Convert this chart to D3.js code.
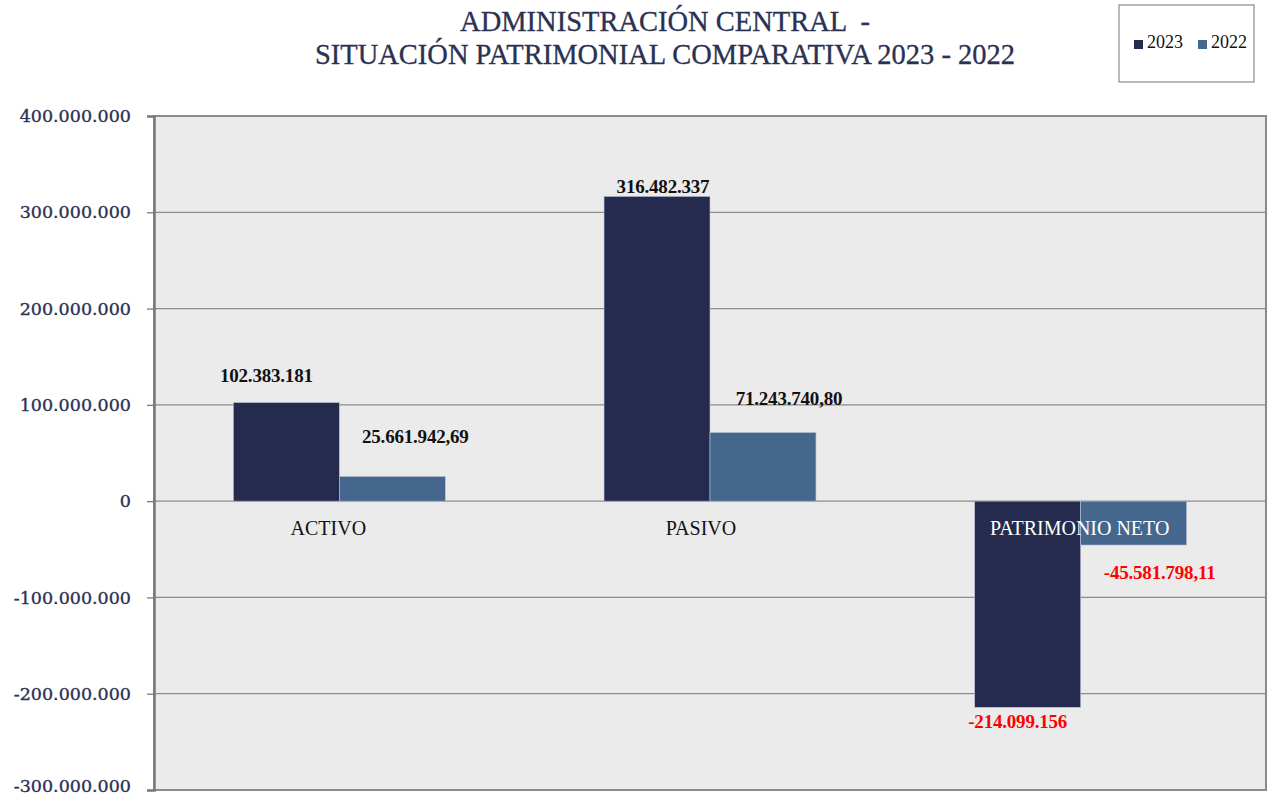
<!DOCTYPE html>
<html>
<head>
<meta charset="utf-8">
<script src="https://cdn.jsdelivr.net/npm/d3@7"></script>
<style>
  body { margin: 0; background: #fff; }
  svg { display: block; font-family: "Liberation Serif", "DejaVu Serif", serif; }
</style>
</head>
<body>
<svg id="chart" width="1269" height="796"></svg>
<script>
// data
var categories = ["ACTIVO", "PASIVO", "PATRIMONIO NETO"];
var seriesNames = ["2023", "2022"];
var values2023 = [102383181, 316482337, -214099156];
var values2022 = [25661942.69, 71243740.80, -45581798.11];
var labels2023 = ["102.383.181", "316.482.337", "-214.099.156"];
var labels2022 = ["25.661.942,69", "71.243.740,80", "-45.581.798,11"];
var yTicks = [400000000, 300000000, 200000000, 100000000, 0, -100000000, -200000000, -300000000];

var colors = { "2023": "#252b4e", "2022": "#46678d" };
var navy = "#2b3152";

// label nudges (dx, dy) as placed by hand in the original
var labelShift2023 = [[-20, -25], [6, -8], [-10, 16]];
var labelShift2022 = [[23, -38], [26, -32], [26, 30]];
var catShift = [-11, -9, -1];

var svg = d3.select("#chart");
var plotL = 154, plotR = 1266, plotT = 116, plotB = 790;

var x0 = d3.scaleBand().domain(categories).range([plotL, plotR]).paddingInner(0).paddingOuter(0);
var x1 = d3.scaleBand().domain(seriesNames).range([0, x0.bandwidth()]).paddingInner(0).paddingOuter(0.749);
var y = d3.scaleLinear().domain([-300000000, 400000000]).range([plotB, plotT]);

// plot background + frame
svg.append("rect")
  .attr("x", plotL).attr("y", plotT)
  .attr("width", plotR - plotL).attr("height", plotB - plotT)
  .attr("fill", "#ebebeb")
  .attr("stroke", "#8a8a8a").attr("stroke-width", 2);

// gridlines
svg.append("g")
  .selectAll("line")
  .data(yTicks.filter(function(d) { return d !== 400000000 && d !== -300000000; }))
  .enter().append("line")
  .attr("x1", plotL).attr("x2", plotR)
  .attr("y1", function(d) { return y(d); })
  .attr("y2", function(d) { return y(d); })
  .attr("stroke", "#8c8c8c").attr("stroke-width", 1.3);

// y axis
var fmt = function(d) {
  if (d === 0) return "0";
  var s = d3.format(",")(Math.abs(d)).replace(/,/g, ".");
  return (d < 0 ? "-" : "") + s;
};
var yAxis = svg.append("g")
  .attr("transform", "translate(" + plotL + ",0)")
  .call(d3.axisLeft(y).tickValues(yTicks).tickFormat(fmt).tickSize(7).tickPadding(16));
yAxis.select(".domain").attr("stroke", "#7a7a7a").attr("stroke-width", 2.5);
yAxis.selectAll(".tick line").attr("stroke", "#7a7a7a").attr("stroke-width", 1.3);
yAxis.selectAll("text")
  .attr("fill", navy)
  .attr("stroke", navy).attr("stroke-width", 0.35)
  .attr("dy", function(d) { return d === -300000000 ? "0.1em" : "0.32em"; })
  .style("font-family", "'DejaVu Serif', serif")
  .style("font-size", "17.5px");

// bars
var rows = categories.map(function(c, i) {
  return { cat: c, vals: [
    { key: "2023", v: values2023[i], label: labels2023[i], shift: labelShift2023[i] },
    { key: "2022", v: values2022[i], label: labels2022[i], shift: labelShift2022[i] }
  ] };
});

var groups = svg.append("g").selectAll("g")
  .data(rows).enter().append("g")
  .attr("transform", function(d) { return "translate(" + x0(d.cat) + ",0)"; });

groups.selectAll("rect")
  .data(function(d) { return d.vals; })
  .enter().append("rect")
  .attr("x", function(d) { return x1(d.key); })
  .attr("width", x1.bandwidth())
  .attr("y", function(d) { return y(Math.max(0, d.v)); })
  .attr("height", function(d) { return Math.abs(y(d.v) - y(0)); })
  .attr("fill", function(d) { return colors[d.key]; })
  .attr("stroke", "#b8c2d4").attr("stroke-width", 0.6);

// value labels
groups.selectAll("text.val")
  .data(function(d) { return d.vals; })
  .enter().append("text")
  .attr("class", "val")
  .attr("x", function(d) { return x1(d.key) + x1.bandwidth() / 2 + d.shift[0]; })
  .attr("y", function(d) { return y(d.v) + d.shift[1]; })
  .attr("text-anchor", "middle")
  .attr("dominant-baseline", "middle")
  .attr("fill", function(d) { return d.v < 0 ? "#ff0000" : "#111"; })
  .style("font-size", "19px")
  .style("font-weight", "bold")
  .style("letter-spacing", "-0.2px")
  .text(function(d) { return d.label; });

// category labels
svg.append("g").selectAll("text")
  .data(categories).enter().append("text")
  .attr("x", function(d, i) { return x0(d) + x0.bandwidth() / 2 + catShift[i]; })
  .attr("y", y(0) + 34)
  .attr("text-anchor", "middle")
  .attr("fill", function(d, i) { return values2023[i] < 0 ? "#ffffff" : "#111"; })
  .style("font-size", "20px")
  .text(function(d) { return d; });

// title
var title = svg.append("text")
  .attr("x", 665).attr("text-anchor", "middle")
  .attr("fill", navy)
  .attr("stroke", navy).attr("stroke-width", 0.3)
  .style("font-size", "28.5px")
  .style("white-space", "pre");
title.append("tspan").attr("x", 665).attr("y", 31).text("ADMINISTRACIÓN CENTRAL  -");
title.append("tspan").attr("x", 665).attr("y", 64).text("SITUACIÓN PATRIMONIAL COMPARATIVA 2023 - 2022");

// legend
var legend = svg.append("g");
legend.append("rect")
  .attr("x", 1119).attr("y", 5).attr("width", 135).attr("height", 77)
  .attr("fill", "#fff").attr("stroke", "#8a8a8a").attr("stroke-width", 1.2);
var items = legend.selectAll("g.item")
  .data(seriesNames).enter().append("g")
  .attr("transform", function(d, i) { return "translate(" + (1134 + i * 64) + ",44)"; });
items.append("rect")
  .attr("x", 0).attr("y", -4).attr("width", 9).attr("height", 9)
  .attr("fill", function(d) { return colors[d]; });
items.append("text")
  .attr("x", 13).attr("y", 0)
  .attr("dominant-baseline", "middle")
  .attr("fill", "#111")
  .style("font-size", "18px")
  .text(function(d) { return d; });
</script>
</body>
</html>
